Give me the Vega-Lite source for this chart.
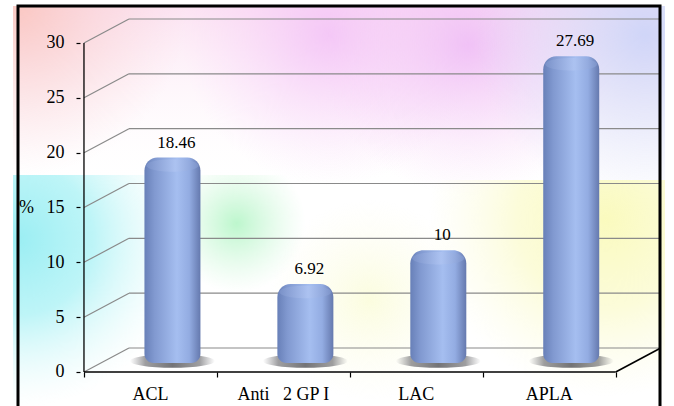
{
  "$schema": "https://vega.github.io/schema/vega-lite/v6.json",
  "autosize": {"type": "none"},
  "width": 652,
  "height": 404,
  "padding": {"left": 13, "top": 6, "right": 9, "bottom": 0},
  "background": "#ffffff",
  "config": {
    "view": {"fill": "#ffffff", "stroke": null},
    "font": "Liberation Serif"
  },
  "datasets": {
    "tests": [
      {"test": "ACL", "pct": 18.46},
      {"test": "Anti\u00a0\u00a0\u00a02 GP I", "pct": 6.92},
      {"test": "LAC", "pct": 10},
      {"test": "APLA", "pct": 27.69}
    ],
    "grid": [{"v": 0}, {"v": 5}, {"v": 10}, {"v": 15}, {"v": 20}, {"v": 25}, {"v": 30}],
    "one": [{}]
  },
  "layer": [
    {
      "data": {"name": "one"},
      "mark": {"type": "rect", "clip": true, "fill": {"gradient": "linear", "x1": 0, "y1": 0, "x2": 0, "y2": 1, "stops": [{"offset": 0, "color": "rgba(251,222,240,0.85)"}, {"offset": 1, "color": "rgba(255,255,255,0)"}]}},
      "encoding": {
        "x": {"datum": 0.0037, "type": "quantitative", "scale": {"domain": [0.0037, 4.8333], "nice": false, "zero": false}},
        "x2": {"datum": 4.8333},
        "y": {"datum": 33.373, "type": "quantitative", "scale": {"domain": [-3.465, 33.373], "nice": false, "zero": false}},
        "y2": {"datum": 16.5}
      }
    },
    {
      "data": {"name": "one"},
      "mark": {"type": "rect", "clip": true, "fill": {"gradient": "radial", "x1": 0.5, "y1": 0.5, "r1": 0, "x2": 0.5, "y2": 0.5, "r2": 0.5, "stops": [{"offset": 0, "color": "rgba(250,198,192,0.95)"}, {"offset": 1, "color": "rgba(250,215,220,0)"}]}},
      "encoding": {
        "x": {"datum": -1.2556, "type": "quantitative", "scale": {"domain": [0.0037, 4.8333], "nice": false, "zero": false}},
        "x2": {"datum": 1.263},
        "y": {"datum": 48.874, "type": "quantitative", "scale": {"domain": [-3.465, 33.373], "nice": false, "zero": false}},
        "y2": {"datum": 17.872}
      }
    },
    {
      "data": {"name": "one"},
      "mark": {"type": "rect", "clip": true, "fill": {"gradient": "radial", "x1": 0.5, "y1": 0.5, "r1": 0, "x2": 0.5, "y2": 0.5, "r2": 0.5, "stops": [{"offset": 0, "color": "rgba(242,190,247,0.8)"}, {"offset": 1, "color": "rgba(248,210,248,0)"}]}},
      "encoding": {
        "x": {"datum": 1.2407, "type": "quantitative", "scale": {"domain": [0.0037, 4.8333], "nice": false, "zero": false}},
        "x2": {"datum": 3.463},
        "y": {"datum": 44.406, "type": "quantitative", "scale": {"domain": [-3.465, 33.373], "nice": false, "zero": false}},
        "y2": {"datum": 17.051}
      }
    },
    {
      "data": {"name": "one"},
      "mark": {"type": "rect", "clip": true, "fill": {"gradient": "radial", "x1": 0.5, "y1": 0.5, "r1": 0, "x2": 0.5, "y2": 0.5, "r2": 0.5, "stops": [{"offset": 0, "color": "rgba(238,186,246,0.85)"}, {"offset": 1, "color": "rgba(248,210,248,0)"}]}},
      "encoding": {
        "x": {"datum": 2.2778, "type": "quantitative", "scale": {"domain": [0.0037, 4.8333], "nice": false, "zero": false}},
        "x2": {"datum": 4.5},
        "y": {"datum": 43.494, "type": "quantitative", "scale": {"domain": [-3.465, 33.373], "nice": false, "zero": false}},
        "y2": {"datum": 16.139}
      }
    },
    {
      "data": {"name": "one"},
      "mark": {"type": "rect", "clip": true, "fill": {"gradient": "radial", "x1": 0.5, "y1": 0.5, "r1": 0, "x2": 0.5, "y2": 0.5, "r2": 0.5, "stops": [{"offset": 0, "color": "rgba(205,212,248,0.95)"}, {"offset": 1, "color": "rgba(215,220,248,0)"}]}},
      "encoding": {
        "x": {"datum": 3.463, "type": "quantitative", "scale": {"domain": [0.0037, 4.8333], "nice": false, "zero": false}},
        "x2": {"datum": 5.9815},
        "y": {"datum": 46.23, "type": "quantitative", "scale": {"domain": [-3.465, 33.373], "nice": false, "zero": false}},
        "y2": {"datum": 15.228}
      }
    },
    {
      "data": {"name": "one"},
      "mark": {"type": "rect", "clip": true, "fill": {"gradient": "radial", "x1": 0.5, "y1": 0.32, "r1": 0, "x2": 0.5, "y2": 0.32, "r2": 0.5, "stops": [{"offset": 0, "color": "rgba(155,238,243,1)"}, {"offset": 0.45, "color": "rgba(178,243,246,0.85)"}, {"offset": 1, "color": "rgba(225,250,250,0)"}]}},
      "encoding": {
        "x": {"datum": -1.2556, "type": "quantitative", "scale": {"domain": [0.0037, 4.8333], "nice": false, "zero": false}},
        "x2": {"datum": 1.263},
        "y": {"datum": 17.963, "type": "quantitative", "scale": {"domain": [-3.465, 33.373], "nice": false, "zero": false}},
        "y2": {"datum": -4.833}
      }
    },
    {
      "data": {"name": "one"},
      "mark": {"type": "rect", "clip": true, "fill": {"gradient": "radial", "x1": 0.5, "y1": 0.417, "r1": 0, "x2": 0.5, "y2": 0.417, "r2": 0.5, "stops": [{"offset": 0, "color": "rgba(185,246,202,0.95)"}, {"offset": 1, "color": "rgba(210,248,220,0)"}]}},
      "encoding": {
        "x": {"datum": 1.1296, "type": "quantitative", "scale": {"domain": [0.0037, 4.8333], "nice": false, "zero": false}},
        "x2": {"datum": 2.1667},
        "y": {"datum": 17.963, "type": "quantitative", "scale": {"domain": [-3.465, 33.373], "nice": false, "zero": false}},
        "y2": {"datum": 7.021}
      }
    },
    {
      "data": {"name": "one"},
      "mark": {"type": "rect", "clip": true, "fill": {"gradient": "radial", "x1": 0.5, "y1": 0.265, "r1": 0, "x2": 0.5, "y2": 0.265, "r2": 0.5, "stops": [{"offset": 0, "color": "rgba(250,250,190,1)"}, {"offset": 0.5, "color": "rgba(251,251,208,0.8)"}, {"offset": 1, "color": "rgba(252,252,225,0)"}]}},
      "encoding": {
        "x": {"datum": 3.0926, "type": "quantitative", "scale": {"domain": [0.0037, 4.8333], "nice": false, "zero": false}},
        "x2": {"datum": 5.7593},
        "y": {"datum": 17.507, "type": "quantitative", "scale": {"domain": [-3.465, 33.373], "nice": false, "zero": false}},
        "y2": {"datum": -4.833}
      }
    },
    {
      "data": {"name": "one"},
      "mark": {"type": "rect", "clip": true, "fill": {"gradient": "radial", "x1": 0.5, "y1": 0.5, "r1": 0, "x2": 0.5, "y2": 0.5, "r2": 0.5, "stops": [{"offset": 0, "color": "rgba(250,252,212,0.75)"}, {"offset": 1, "color": "rgba(252,252,230,0)"}]}},
      "encoding": {
        "x": {"datum": 1.9074, "type": "quantitative", "scale": {"domain": [0.0037, 4.8333], "nice": false, "zero": false}},
        "x2": {"datum": 3.3889},
        "y": {"datum": 15.683, "type": "quantitative", "scale": {"domain": [-3.465, 33.373], "nice": false, "zero": false}},
        "y2": {"datum": -2.553}
      }
    },
    {
      "data": {"name": "grid"},
      "mark": {"type": "rule", "color": "#8a8a8a", "strokeWidth": 1.2, "xOffset": 45, "yOffset": -24},
      "encoding": {
        "x": {"datum": 0.5, "type": "quantitative", "scale": {"domain": [0.0037, 4.8333], "nice": false, "zero": false}},
        "x2": {"datum": 4.8333},
        "y": {"field": "v", "type": "quantitative", "scale": {"domain": [-3.465, 33.373], "nice": false, "zero": false}}
      }
    },
    {
      "data": {"name": "grid"},
      "mark": {"type": "rule", "color": "#8a8a8a", "strokeWidth": 1.2, "x2Offset": 45, "y2Offset": -24},
      "encoding": {
        "x": {"datum": 0.5, "type": "quantitative", "scale": {"domain": [0.0037, 4.8333], "nice": false, "zero": false}},
        "x2": {"datum": 0.5},
        "y": {"field": "v", "type": "quantitative", "scale": {"domain": [-3.465, 33.373], "nice": false, "zero": false}},
        "y2": {"field": "v"}
      }
    },
    {
      "data": {"name": "one"},
      "mark": {"type": "rule", "color": "#000000", "strokeWidth": 1.6, "x2Offset": 45, "y2Offset": -24},
      "encoding": {
        "x": {"datum": 4.5, "type": "quantitative", "scale": {"domain": [0.0037, 4.8333], "nice": false, "zero": false}},
        "x2": {"datum": 4.5},
        "y": {"datum": 0, "type": "quantitative", "scale": {"domain": [-3.465, 33.373], "nice": false, "zero": false}},
        "y2": {"datum": 0}
      }
    },
    {
      "data": {"name": "one"},
      "mark": {"type": "rule", "color": "#000000", "strokeWidth": 1.3},
      "encoding": {
        "x": {"datum": 0.5, "type": "quantitative", "scale": {"domain": [0.0037, 4.8333], "nice": false, "zero": false}},
        "x2": {"datum": 4.5},
        "y": {"datum": 0, "type": "quantitative", "scale": {"domain": [-3.465, 33.373], "nice": false, "zero": false}}
      }
    },
    {
      "data": {"name": "one"},
      "mark": {"type": "rule", "color": "#000000", "strokeWidth": 1.3},
      "encoding": {
        "x": {"datum": 0.5, "type": "quantitative", "scale": {"domain": [0.0037, 4.8333], "nice": false, "zero": false}},
        "y": {"datum": 0, "type": "quantitative", "scale": {"domain": [-3.465, 33.373], "nice": false, "zero": false}},
        "y2": {"datum": 30}
      }
    },
    {
      "data": {"name": "tests"},
      "transform": [{"window": [{"op": "row_number", "as": "idx"}]}],
      "mark": {"type": "point", "filled": true, "shape": "M-1,0A1,0.16,0,1,0,1,0A1,0.16,0,1,0,-1,0Z", "size": 7225, "strokeWidth": 0, "xOffset": 22, "yOffset": -11, "fill": {"gradient": "linear", "x1": 0, "y1": 0, "x2": 1, "y2": 0, "stops": [{"offset": 0, "color": "rgba(90,90,95,0)"}, {"offset": 0.18, "color": "rgba(70,70,75,0.75)"}, {"offset": 0.5, "color": "rgba(45,45,50,0.95)"}, {"offset": 0.82, "color": "rgba(70,70,75,0.75)"}, {"offset": 1, "color": "rgba(90,90,95,0)"}]}},
      "encoding": {
        "x": {"field": "idx", "type": "quantitative", "scale": {"domain": [0.0037, 4.8333], "nice": false, "zero": false}},
        "y": {"datum": 0, "type": "quantitative", "scale": {"domain": [-3.465, 33.373], "nice": false, "zero": false}}
      }
    },
    {
      "data": {"name": "tests"},
      "transform": [{"window": [{"op": "row_number", "as": "idx"}]}],
      "mark": {"type": "bar", "width": 56, "xOffset": 22, "yOffset": -12, "y2Offset": -9, "cornerRadiusTopLeft": 13, "cornerRadiusTopRight": 13, "cornerRadiusBottomLeft": 9, "cornerRadiusBottomRight": 9, "fill": {"gradient": "linear", "x1": 0, "y1": 0, "x2": 1, "y2": 0, "stops": [{"offset": 0, "color": "#6880b8"}, {"offset": 0.18, "color": "#8199d0"}, {"offset": 0.58, "color": "#a5bef0"}, {"offset": 0.8, "color": "#93ace2"}, {"offset": 1, "color": "#6579ae"}]}},
      "encoding": {
        "x": {"field": "idx", "type": "quantitative", "scale": {"domain": [0.0037, 4.8333], "nice": false, "zero": false},
              "axis": {"values": [0.5, 1.5, 2.5, 3.5, 4.5], "labels": false, "domain": false, "grid": false, "tickSize": 5, "tickColor": "#000000", "tickWidth": 1.2, "offset": -38, "title": null, "zindex": 2}},
        "y": {"field": "pct", "type": "quantitative", "scale": {"domain": [-3.465, 33.373], "nice": false, "zero": false},
              "axis": {"values": [0, 5, 10, 15, 20, 25, 30], "domain": false, "grid": false, "tickSize": 4, "tickColor": "#000000", "tickWidth": 1.2, "offset": -67, "labelPadding": 12, "labelFont": "Liberation Serif", "labelFontSize": 18, "labelColor": "#000000", "zindex": 2,
                       "title": "%", "titleAngle": 0, "titleX": -54, "titleY": 201, "titleAlign": "center", "titleBaseline": "middle", "titleFont": "Liberation Serif", "titleFontSize": 18, "titleFontWeight": "normal", "titleColor": "#000000"}},
        "y2": {"datum": 0}
      }
    },
    {
      "data": {"name": "tests"},
      "transform": [{"window": [{"op": "row_number", "as": "idx"}]}],
      "mark": {"type": "point", "filled": true, "shape": "M-1,0A1,0.24,0,1,0,1,0A1,0.24,0,1,0,-1,0Z", "size": 2704, "strokeWidth": 0, "xOffset": 22, "yOffset": -4, "fill": {"gradient": "linear", "x1": 0, "y1": 0, "x2": 1, "y2": 0, "stops": [{"offset": 0, "color": "#7f96cc"}, {"offset": 0.55, "color": "#b0c5f2"}, {"offset": 1, "color": "#8299cf"}]}},
      "encoding": {
        "x": {"field": "idx", "type": "quantitative", "scale": {"domain": [0.0037, 4.8333], "nice": false, "zero": false}},
        "y": {"field": "pct", "type": "quantitative", "scale": {"domain": [-3.465, 33.373], "nice": false, "zero": false}}
      }
    },
    {
      "data": {"name": "tests"},
      "transform": [{"window": [{"op": "row_number", "as": "idx"}]}],
      "mark": {"type": "text", "font": "Liberation Serif", "fontSize": 17, "color": "#000000", "baseline": "alphabetic", "align": "center", "xOffset": 26, "yOffset": -22},
      "encoding": {
        "x": {"field": "idx", "type": "quantitative", "scale": {"domain": [0.0037, 4.8333], "nice": false, "zero": false}},
        "y": {"field": "pct", "type": "quantitative", "scale": {"domain": [-3.465, 33.373], "nice": false, "zero": false}},
        "text": {"field": "pct", "type": "nominal"}
      }
    },
    {
      "data": {"name": "tests"},
      "transform": [{"window": [{"op": "row_number", "as": "idx"}]}],
      "mark": {"type": "text", "font": "Liberation Serif", "fontSize": 18, "color": "#000000", "baseline": "alphabetic", "align": "center", "yOffset": 28},
      "encoding": {
        "x": {"field": "idx", "type": "quantitative", "scale": {"domain": [0.0037, 4.8333], "nice": false, "zero": false}},
        "y": {"datum": 0, "type": "quantitative", "scale": {"domain": [-3.465, 33.373], "nice": false, "zero": false}},
        "text": {"field": "test", "type": "nominal"}
      }
    },
    {
      "data": {"name": "one"},
      "mark": {"type": "rect", "fill": null, "stroke": "#000000", "strokeWidth": 3},
      "encoding": {
        "x": {"datum": 0.0037, "type": "quantitative", "scale": {"domain": [0.0037, 4.8333], "nice": false, "zero": false}},
        "x2": {"datum": 4.8333},
        "y": {"datum": 33.373, "type": "quantitative", "scale": {"domain": [-3.465, 33.373], "nice": false, "zero": false}},
        "y2": {"datum": -3.465}
      }
    }
  ]
}
